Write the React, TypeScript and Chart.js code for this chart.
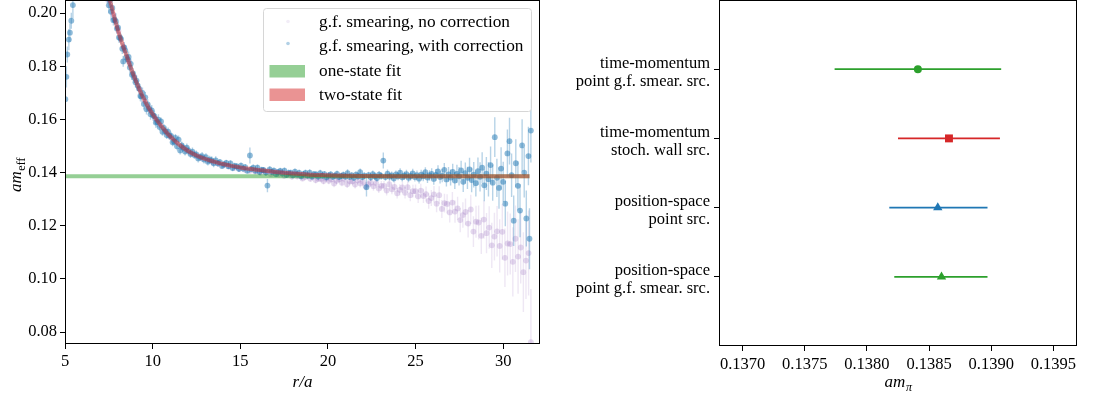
import React, { useEffect, useRef } from 'react';
import { Chart, registerables } from 'chart.js';

Chart.register(...registerables);

const FONT = '"Liberation Serif", "DejaVu Serif", serif';

// ---------- Left panel data ----------
const R_TICKS = [5, 10, 15, 20, 25, 30];
const AM_TICKS = [0.08, 0.1, 0.12, 0.14, 0.16, 0.18, 0.2];

// g.f. smearing, with correction
const R_CORR = [
  5.02, 5.08, 5.13, 5.22, 5.28, 5.36, 5.45, 5.55,
  7.42, 7.50, 7.58, 7.63, 7.70, 7.76, 7.83, 7.90, 7.96, 8.03, 8.08, 8.15, 8.20, 8.27, 8.32, 8.38, 8.44, 8.50,
  8.57, 8.63, 8.70, 8.75, 8.82, 8.88, 8.95, 9.02, 9.08, 9.15, 9.22, 9.30, 9.35, 9.42, 9.50, 9.58, 9.65, 9.72,
  9.80, 9.88, 9.95, 10.03, 10.10, 10.18, 10.26, 10.33, 10.40, 10.48, 10.56, 10.64, 10.72, 10.80, 10.88, 10.96,
  11.05, 11.14, 11.22, 11.30, 11.39, 11.48, 11.57, 11.66, 11.75, 11.85, 11.95,
  12.05, 12.16, 12.27, 12.38, 12.49, 12.60, 12.71, 12.82, 12.93, 13.04, 13.15, 13.26, 13.37, 13.48, 13.60,
  13.72, 13.84, 13.96, 14.08, 14.20, 14.32, 14.44, 14.56, 14.68, 14.80, 14.92, 15.04, 15.16, 15.28, 15.40,
  15.55, 15.62, 15.74, 15.86, 15.98, 16.10, 16.22, 16.34, 16.46, 16.55, 16.68, 16.80, 16.92, 17.04, 17.16,
  17.28, 17.40, 17.52, 17.64, 17.76, 17.88, 18.00, 18.12, 18.24, 18.36, 18.48, 18.60, 18.72, 18.84, 18.96,
  19.08, 19.20, 19.32, 19.44, 19.56, 19.68, 19.80, 19.92,
  20.04, 20.16, 20.28, 20.40, 20.52, 20.64, 20.76, 20.88, 21.00, 21.12, 21.24, 21.36, 21.48, 21.60, 21.72,
  21.84, 21.96, 22.08, 22.20, 22.32, 22.44, 22.56, 22.68, 22.80, 22.92, 23.04, 23.16, 23.28, 23.40, 23.52,
  23.64, 23.76, 23.88, 24.00, 24.12, 24.24, 24.36, 24.48, 24.60, 24.72, 24.84, 24.96, 25.08, 25.20, 25.32,
  25.44, 25.56, 25.68, 25.80, 25.92, 26.04, 26.16, 26.28, 26.40, 26.52, 26.64, 26.76, 26.88, 27.00, 27.12,
  27.24, 27.36, 27.48, 27.60, 27.72, 27.84, 27.96, 28.08, 28.20, 28.32, 28.44, 28.56, 28.68, 28.80, 28.92,
  29.04, 29.16, 29.28, 29.40, 29.52, 29.64, 29.76, 29.88, 30.00, 30.12, 30.24, 30.36, 30.48, 30.60, 30.72,
  30.84, 30.96, 31.08, 31.20, 31.32, 31.44, 31.50, 31.58,
];
const AM_CORR = [
  0.1676, 0.1760, 0.1844, 0.1900, 0.1926, 0.1971, 0.2030, 0.2120,
  0.2067, 0.2029, 0.2048, 0.2005, 0.2019, 0.1973, 0.1975, 0.1969, 0.1942, 0.1945, 0.1908, 0.1907, 0.1902, 0.1866, 0.1818, 0.1871, 0.1859, 0.1834,
  0.1826, 0.1835, 0.1795, 0.1809, 0.1768, 0.1773, 0.1757, 0.1740, 0.1746, 0.1727, 0.1716, 0.1688, 0.1686, 0.1700, 0.1658, 0.1683, 0.1638, 0.1656,
  0.1641, 0.1619, 0.1634, 0.1615, 0.1612, 0.1588, 0.1590, 0.1599, 0.1571, 0.1592, 0.1553, 0.1568, 0.1556, 0.1541, 0.1554, 0.1538,
  0.1538, 0.1514, 0.1517, 0.1530, 0.1499, 0.1524, 0.1483, 0.1502, 0.1493, 0.1479, 0.1494,
  0.1482, 0.1470, 0.1479, 0.1466, 0.1468, 0.1453, 0.1458, 0.1462, 0.1449, 0.1458, 0.1441, 0.1448, 0.1446, 0.1435, 0.1446,
  0.1435, 0.1439, 0.1425, 0.1431, 0.1436, 0.1424, 0.1434, 0.1417, 0.1425, 0.1423, 0.1414, 0.1426, 0.1415, 0.1420, 0.1407,
  0.1464, 0.1413, 0.1418, 0.1407, 0.1418, 0.1402, 0.1410, 0.1409, 0.1400, 0.1351, 0.1412, 0.1402, 0.1407, 0.1394, 0.1401,
  0.1406, 0.1396, 0.1407, 0.1391, 0.1399, 0.1399, 0.1390, 0.1403, 0.1393, 0.1399, 0.1386, 0.1394, 0.1399, 0.1389, 0.1400,
  0.1385, 0.1394, 0.1393, 0.1385, 0.1398, 0.1388, 0.1394, 0.1382,
  0.1389, 0.1393, 0.1384, 0.1388, 0.1395, 0.1383, 0.1387, 0.1391, 0.1385, 0.1398, 0.1384, 0.1389, 0.1380, 0.1392, 0.1386,
  0.1401, 0.1383, 0.1388, 0.1345, 0.1390, 0.1382, 0.1394, 0.1386, 0.1379, 0.1392, 0.1387, 0.1445, 0.1383, 0.1396, 0.1385,
  0.1389, 0.1378, 0.1393, 0.1386, 0.1400, 0.1382, 0.1388, 0.1394, 0.1380, 0.1387, 0.1397, 0.1383, 0.1390, 0.1377, 0.1392,
  0.1386, 0.1401, 0.1381, 0.1389, 0.1395, 0.1376, 0.1391, 0.1404, 0.1383, 0.1388, 0.1410, 0.1374, 0.1393, 0.1381, 0.1402,
  0.1370, 0.1395, 0.1386, 0.1408, 0.1365, 0.1398, 0.1380, 0.1412, 0.1372, 0.1392, 0.1360, 0.1405, 0.1384, 0.1418, 0.1352,
  0.1396, 0.1375, 0.1428, 0.1362, 0.1533, 0.1380, 0.1342, 0.1415, 0.1365, 0.1283, 0.1472, 0.1518, 0.1390, 0.1219, 0.1435,
  0.1350, 0.1257, 0.1502, 0.1400, 0.1227, 0.1462, 0.1151, 0.1558,
];
const ERR_CORR = [
  0.0045, 0.0040, 0.0030, 0.0040, 0.0035, 0.0030, 0.0050, 0.0060,
  0.003, 0.003, 0.002, 0.003, 0.002, 0.002, 0.002, 0.003, 0.002, 0.002, 0.002, 0.002, 0.002, 0.002, 0.002, 0.002, 0.002, 0.002,
  0.002, 0.002, 0.002, 0.002, 0.002, 0.002, 0.002, 0.002, 0.002, 0.002, 0.002, 0.002, 0.002, 0.002, 0.002, 0.002, 0.002, 0.002,
  0.002, 0.002, 0.002, 0.002, 0.002, 0.002, 0.002, 0.002, 0.0015, 0.0015, 0.0015, 0.0015, 0.0015, 0.0015, 0.0015, 0.0015,
  0.0015, 0.0015, 0.0015, 0.0015, 0.0015, 0.0015, 0.0015, 0.0015, 0.0015, 0.0015, 0.0015,
  0.0015, 0.0015, 0.0015, 0.0015, 0.0015, 0.0015, 0.0015, 0.0015, 0.0015, 0.0015, 0.0015, 0.0015, 0.0015, 0.0015, 0.0015,
  0.0012, 0.0012, 0.0012, 0.0012, 0.0012, 0.0012, 0.0012, 0.0012, 0.0012, 0.0012, 0.0012, 0.0012, 0.0012, 0.0012, 0.0012,
  0.0030, 0.0012, 0.0012, 0.0012, 0.0012, 0.0012, 0.0012, 0.0012, 0.0012, 0.0025, 0.0012, 0.0012, 0.0012, 0.0012, 0.0012,
  0.0012, 0.0012, 0.0012, 0.0012, 0.0012, 0.0012, 0.0012, 0.0012, 0.0012, 0.0012, 0.0012, 0.0012, 0.0012, 0.0012, 0.0012,
  0.0012, 0.0012, 0.0012, 0.0012, 0.0012, 0.0012, 0.0012, 0.0012,
  0.0012, 0.0012, 0.0012, 0.0012, 0.0013, 0.0012, 0.0012, 0.0013, 0.0012, 0.0014, 0.0012, 0.0013, 0.0013, 0.0013, 0.0013,
  0.0014, 0.0013, 0.0013, 0.0035, 0.0013, 0.0014, 0.0014, 0.0014, 0.0014, 0.0014, 0.0014, 0.0030, 0.0014, 0.0015, 0.0015,
  0.0015, 0.0015, 0.0015, 0.0015, 0.0016, 0.0016, 0.0016, 0.0016, 0.0017, 0.0017, 0.0017, 0.0017, 0.0018, 0.0018, 0.0018,
  0.0019, 0.0019, 0.0020, 0.0020, 0.0021, 0.0022, 0.0022, 0.0023, 0.0024, 0.0025, 0.0026, 0.0027, 0.0028, 0.0030, 0.0031,
  0.0032, 0.0034, 0.0035, 0.0036, 0.0038, 0.0040, 0.0042, 0.0044, 0.0046, 0.0048, 0.0050, 0.0052, 0.0055, 0.0058, 0.0060,
  0.0062, 0.0065, 0.0070, 0.0068, 0.0075, 0.0072, 0.0078, 0.0080, 0.0076, 0.0085, 0.0090, 0.0088, 0.0082, 0.0095, 0.0090,
  0.0092, 0.0100, 0.0098, 0.0094, 0.0105, 0.0110, 0.0115, 0.0120,
];

// g.f. smearing, no correction
const R_NOCORR = [
  7.45, 7.75, 8.05, 8.35, 8.65, 8.95, 9.25, 9.55, 9.85, 10.15, 10.45, 10.75, 11.05, 11.35, 11.65, 11.95,
  12.25, 12.55, 12.85, 13.15, 13.45, 13.75, 14.05, 14.35, 14.65, 14.95, 15.25, 15.55, 15.85,
  16.00, 16.15, 16.30, 16.45, 16.60, 16.75, 16.90, 17.05, 17.20, 17.35, 17.50, 17.65, 17.80, 17.95, 18.10,
  18.25, 18.40, 18.55, 18.70, 18.85, 19.00, 19.15, 19.30, 19.45, 19.60, 19.75, 19.90, 20.05, 20.20, 20.35,
  20.50, 20.65, 20.80, 20.95, 21.10, 21.25, 21.40, 21.55, 21.70, 21.85, 22.00, 22.15, 22.30, 22.45, 22.60,
  22.75, 22.90, 23.05, 23.20, 23.35, 23.50, 23.65, 23.80, 23.95, 24.10, 24.25, 24.40, 24.55, 24.70, 24.85,
  25.00, 25.15, 25.30, 25.45, 25.60, 25.75, 25.90, 26.05, 26.20, 26.35, 26.50, 26.65, 26.80, 26.95, 27.10,
  27.25, 27.40, 27.55, 27.70, 27.85, 28.00, 28.15, 28.30, 28.45, 28.60, 28.75, 28.90, 29.05, 29.20, 29.35,
  29.50, 29.65, 29.80, 29.95, 30.10, 30.25, 30.40, 30.55, 30.70, 30.85, 31.00, 31.15, 31.30, 31.45, 31.58,
];
const AM_NOCORR = [
  0.2050, 0.1995, 0.1932, 0.1872, 0.1818, 0.1762, 0.1714, 0.1668, 0.1636, 0.1603, 0.1578, 0.1552, 0.1533, 0.1514, 0.1496, 0.1484,
  0.1471, 0.1462, 0.1453, 0.1446, 0.1438, 0.1433, 0.1428, 0.1423, 0.1418, 0.1414, 0.1411, 0.1407, 0.1404,
  0.1408, 0.1400, 0.1409, 0.1401, 0.1404, 0.1394, 0.1399, 0.1402, 0.1393, 0.1401, 0.1388, 0.1393, 0.1393, 0.1385, 0.1394,
  0.1386, 0.1388, 0.1378, 0.1383, 0.1386, 0.1377, 0.1385, 0.1372, 0.1377, 0.1376, 0.1368, 0.1377, 0.1369, 0.1375, 0.1359,
  0.1369, 0.1375, 0.1362, 0.1376, 0.1356, 0.1367, 0.1367, 0.1355, 0.1371, 0.1359, 0.1365, 0.1348, 0.1356, 0.1362, 0.1348,
  0.1361, 0.1340, 0.1350, 0.1350, 0.1332, 0.1356, 0.1337, 0.1346, 0.1322, 0.1335, 0.1344, 0.1324, 0.1345, 0.1315, 0.1330,
  0.1330, 0.1310, 0.1332, 0.1312, 0.1319, 0.1293, 0.1304, 0.1318, 0.1283, 0.1315, 0.1263, 0.1285, 0.1282, 0.1250, 0.1287,
  0.1253, 0.1265, 0.1221, 0.1240, 0.1252, 0.1208, 0.1261, 0.1178, 0.1215, 0.1212, 0.1162, 0.1223, 0.1172, 0.1193, 0.1126,
  0.1159, 0.1179, 0.1124, 0.1177, 0.1079, 0.1133, 0.1131, 0.1064, 0.1151, 0.1084, 0.1118, 0.1025, 0.1069, 0.1097, 0.0762,
];
const ERR_NOCORR = [
  0.003, 0.003, 0.002, 0.002, 0.002, 0.002, 0.002, 0.002, 0.002, 0.002, 0.0015, 0.0015, 0.0015, 0.0015, 0.0015, 0.0015,
  0.0012, 0.0012, 0.0012, 0.0012, 0.0012, 0.0012, 0.0012, 0.0012, 0.0012, 0.0012, 0.0012, 0.0012, 0.0012,
  0.0012, 0.0012, 0.0012, 0.0012, 0.0012, 0.0012, 0.0012, 0.0012, 0.0012, 0.0012, 0.0012, 0.0012, 0.0012, 0.0012, 0.0012,
  0.0012, 0.0012, 0.0012, 0.0012, 0.0012, 0.0013, 0.0013, 0.0013, 0.0013, 0.0013, 0.0013, 0.0013, 0.0013, 0.0013, 0.0014,
  0.0014, 0.0014, 0.0014, 0.0014, 0.0014, 0.0015, 0.0015, 0.0015, 0.0015, 0.0015, 0.0016, 0.0016, 0.0016, 0.0016, 0.0017,
  0.0017, 0.0017, 0.0018, 0.0018, 0.0018, 0.0019, 0.0019, 0.0020, 0.0020, 0.0021, 0.0021, 0.0022, 0.0022, 0.0023, 0.0024,
  0.0025, 0.0025, 0.0026, 0.0027, 0.0028, 0.0029, 0.0030, 0.0031, 0.0032, 0.0033, 0.0034, 0.0035, 0.0036, 0.0038, 0.0040,
  0.0042, 0.0044, 0.0046, 0.0048, 0.0050, 0.0052, 0.0055, 0.0058, 0.0060, 0.0064, 0.0068, 0.0072, 0.0076, 0.0080, 0.0085,
  0.0090, 0.0095, 0.0100, 0.0105, 0.0110, 0.0120, 0.0115, 0.0130, 0.0125, 0.0140, 0.0135, 0.0150, 0.0145, 0.0160, 0.0200,
];

// fits
const R_FIT1 = [5.0, 31.5];
const AM_FIT1 = [0.1386, 0.1386];
const R_FIT2 = [7.2, 7.4, 7.55, 7.75, 8.0, 8.25, 8.5, 8.75, 9.0, 9.25, 9.5, 9.75, 10.0, 10.25, 10.5, 10.75, 11.0, 11.5, 12.0,
  12.5, 13.0, 13.5, 14.0, 14.5, 15.0, 15.5, 16.0, 17.0, 18.0, 19.0, 20.0, 21.0, 22.0, 24.0, 26.0, 28.0, 31.5];
const AM_FIT2 = [0.2110, 0.2078, 0.2050, 0.2000, 0.1940, 0.1888, 0.1842, 0.1795, 0.1752, 0.1712, 0.1677, 0.1646, 0.1620,
  0.1596, 0.1574, 0.1554, 0.1536, 0.1506, 0.1482, 0.1464, 0.1451, 0.1441, 0.1432, 0.1425, 0.1419, 0.1414, 0.1410, 0.1402,
  0.1396, 0.1392, 0.1390, 0.1388, 0.1387, 0.1386, 0.1386, 0.1386, 0.1386];

const LEGEND_LABELS = ['g.f. smearing, no correction', 'g.f. smearing, with correction', 'one-state fit', 'two-state fit'];

// ---------- Right panel data ----------
const METHOD_LABELS = [
  ['time-momentum', 'point g.f. smear. src.'],
  ['time-momentum', 'stoch. wall src.'],
  ['position-space', 'point src.'],
  ['position-space', 'point g.f. smear. src.'],
];
const AM_PI = [0.13841, 0.13866, 0.13857, 0.13860];
const AM_PI_LO = [0.13774, 0.13825, 0.13818, 0.13822];
const AM_PI_HI = [0.13908, 0.13907, 0.13897, 0.13897];
const METHOD_COLORS = ['#2ca02c', '#d62728', '#1f77b4', '#2ca02c'];
const METHOD_MARKERS = ['circle', 'rect', 'triangle', 'triangle'];
const METHOD_RADII = [4, 5.6, 5.4, 5.4];
const AMPI_TICKS = [0.137, 0.1375, 0.138, 0.1385, 0.139, 0.1395];

// ---------- helpers ----------
const fixTicks = (values: number[]) => (scale: any) => {
  scale.ticks = values.map((v) => ({ value: v }));
};
const pts = (xs: number[], ys: number[]) => xs.map((x, i) => ({ x, y: ys[i] }));
const errSegs = (xs: number[], ys: number[], es: number[]) => {
  const out: any[] = [];
  xs.forEach((x, i) => {
    out.push({ x, y: ys[i] - es[i] });
    out.push({ x, y: ys[i] + es[i] });
    out.push({ x, y: null });
  });
  return out;
};

const framePlugin = {
  id: 'frame',
  afterDatasetsDraw(chart: any) {
    const { ctx, chartArea: a } = chart;
    ctx.save();
    ctx.strokeStyle = '#000';
    ctx.lineWidth = 1;
    ctx.strokeRect(Math.round(a.left) + 0.5, Math.round(a.top) + 0.5, Math.round(a.right - a.left) - 1, Math.round(a.bottom - a.top) - 1);
    ctx.restore();
  },
};

function drawSubText(ctx: CanvasRenderingContext2D, main: string, sub: string, cx: number, baseline: number, subItalic: boolean) {
  const mainFont = `italic 17px ${FONT}`;
  const subFont = `${subItalic ? 'italic ' : ''}12px ${FONT}`;
  ctx.font = mainFont;
  const w1 = ctx.measureText(main).width;
  ctx.font = subFont;
  const w2 = ctx.measureText(sub).width;
  const x0 = cx - (w1 + w2) / 2;
  ctx.textAlign = 'left';
  ctx.textBaseline = 'alphabetic';
  ctx.font = mainFont;
  ctx.fillText(main, x0, baseline);
  ctx.font = subFont;
  ctx.fillText(sub, x0 + w1 + 0.5, baseline + 4);
}

const leftDecor = {
  id: 'leftDecor',
  afterDraw(chart: any) {
    const { ctx, chartArea: a } = chart;
    ctx.save();
    ctx.fillStyle = '#000';
    // x title
    ctx.font = `italic 17px ${FONT}`;
    ctx.textAlign = 'center';
    ctx.textBaseline = 'alphabetic';
    ctx.fillText('r/a', (a.left + a.right) / 2, 387);
    // y title
    ctx.save();
    ctx.translate(21, (a.top + a.bottom) / 2 + 3);
    ctx.rotate(-Math.PI / 2);
    drawSubText(ctx, 'am', 'eff', 0, 0, false);
    ctx.restore();

    // legend
    const bx = 263.5, by = 8.5, bw = 268, bh = 103, r = 3;
    ctx.beginPath();
    ctx.moveTo(bx + r, by);
    ctx.lineTo(bx + bw - r, by);
    ctx.quadraticCurveTo(bx + bw, by, bx + bw, by + r);
    ctx.lineTo(bx + bw, by + bh - r);
    ctx.quadraticCurveTo(bx + bw, by + bh, bx + bw - r, by + bh);
    ctx.lineTo(bx + r, by + bh);
    ctx.quadraticCurveTo(bx, by + bh, bx, by + bh - r);
    ctx.lineTo(bx, by + r);
    ctx.quadraticCurveTo(bx, by, bx + r, by);
    ctx.closePath();
    ctx.fillStyle = 'rgba(255,255,255,0.8)';
    ctx.fill();
    ctx.strokeStyle = '#d6d6d6';
    ctx.lineWidth = 1;
    ctx.stroke();

    const rows = [22.5, 46, 71.5, 95];
    ctx.fillStyle = 'rgba(148,103,189,0.12)';
    ctx.beginPath(); ctx.arc(288, 21.5, 1.8, 0, Math.PI * 2); ctx.fill();
    ctx.fillStyle = 'rgba(31,119,180,0.35)';
    ctx.beginPath(); ctx.arc(288, 43.5, 1.8, 0, Math.PI * 2); ctx.fill();
    ctx.fillStyle = 'rgba(44,160,44,0.5)';
    ctx.fillRect(269.5, 65, 35.5, 12.5);
    ctx.fillStyle = 'rgba(214,39,40,0.5)';
    ctx.fillRect(269.5, 88.5, 35.5, 12.5);

    ctx.fillStyle = '#000';
    ctx.font = `17.3px ${FONT}`;
    ctx.textAlign = 'left';
    ctx.textBaseline = 'middle';
    LEGEND_LABELS.forEach((t, i) => ctx.fillText(t, 319, rows[i]));
    ctx.restore();
  },
};

const rightDecor = {
  id: 'rightDecor',
  afterDraw(chart: any) {
    const { ctx, chartArea: a } = chart;
    ctx.save();
    ctx.fillStyle = '#000';
    drawSubText(ctx, 'am', 'π', (a.left + a.right) / 2, 387, true);
    ctx.restore();
  },
};

const tickFont = { family: FONT, size: 16.5 };
const axisGrid = { drawOnChartArea: false, drawTicks: true, tickLength: 5, tickColor: '#000', tickWidth: 1, color: '#000' };

export default function App() {
  const leftRef = useRef<HTMLCanvasElement>(null);
  const rightRef = useRef<HTMLCanvasElement>(null);

  useEffect(() => {
    const left = new Chart(leftRef.current as HTMLCanvasElement, {
      type: 'scatter',
      data: {
        datasets: [
          {
            label: 'two-state fit', data: pts(R_FIT2, AM_FIT2), showLine: true, borderColor: 'rgba(214,39,40,0.5)',
            borderWidth: 4, pointRadius: 0, cubicInterpolationMode: 'monotone', order: 0,
          } as any,
          {
            label: 'one-state fit', data: pts(R_FIT1, AM_FIT1), showLine: true, borderColor: 'rgba(44,160,44,0.5)',
            borderWidth: 4, pointRadius: 0, order: 1,
          },
          {
            label: LEGEND_LABELS[1], data: pts(R_CORR, AM_CORR), pointRadius: 2.9, borderWidth: 0,
            backgroundColor: 'rgba(31,119,180,0.5)', order: 2,
          },
          {
            label: 'err corr', data: errSegs(R_CORR, AM_CORR, ERR_CORR), showLine: true, spanGaps: false,
            borderColor: 'rgba(31,119,180,0.32)', borderWidth: 1.4, pointRadius: 0, order: 3,
          },
          {
            label: LEGEND_LABELS[0], data: pts(R_NOCORR, AM_NOCORR), pointRadius: 2.9, borderWidth: 0,
            backgroundColor: 'rgba(148,103,189,0.25)', order: 4,
          },
          {
            label: 'err nocorr', data: errSegs(R_NOCORR, AM_NOCORR, ERR_NOCORR), showLine: true, spanGaps: false,
            borderColor: 'rgba(148,103,189,0.16)', borderWidth: 1.4, pointRadius: 0, order: 5,
          },
        ],
      },
      options: {
        animation: false,
        responsive: false,
        maintainAspectRatio: false,
        layout: { autoPadding: false, padding: { left: 0, right: 19, top: 0, bottom: 0 } },
        plugins: { legend: { display: false }, tooltip: { enabled: false } },
        scales: {
          x: {
            type: 'linear', min: 5, max: 32.1,
            afterBuildTicks: fixTicks(R_TICKS),
            afterFit: (s: any) => { s.height = 55; s.paddingLeft = 0; s.paddingRight = 0; },
            grid: axisGrid, border: { display: false },
            ticks: { color: '#000', font: tickFont, padding: 3, autoSkip: false, maxRotation: 0, callback: (v: any) => String(v) },
          },
          y: {
            type: 'linear', min: 0.0755, max: 0.2049,
            afterBuildTicks: fixTicks(AM_TICKS),
            afterFit: (s: any) => { s.width = 65; s.paddingTop = 0; s.paddingBottom = 0; },
            grid: axisGrid, border: { display: false },
            ticks: { color: '#000', font: tickFont, padding: 3, autoSkip: false, callback: (v: any) => Number(v).toFixed(2) },
          },
        },
      } as any,
      plugins: [framePlugin, leftDecor],
    });

    const rightSets: any[] = [];
    AM_PI.forEach((v, i) => {
      rightSets.push({
        label: 'bar' + i, data: [{ x: AM_PI_LO[i], y: i }, { x: AM_PI_HI[i], y: i }], showLine: true,
        borderColor: METHOD_COLORS[i], borderWidth: 1.7, pointRadius: 0, order: 2,
      });
      rightSets.push({
        label: 'pt' + i, data: [{ x: v, y: i }], pointStyle: METHOD_MARKERS[i], pointRadius: METHOD_RADII[i],
        backgroundColor: METHOD_COLORS[i], borderColor: METHOD_COLORS[i], borderWidth: 0, order: 1,
      });
    });

    const right = new Chart(rightRef.current as HTMLCanvasElement, {
      type: 'scatter',
      data: { datasets: rightSets },
      options: {
        animation: false,
        responsive: false,
        maintainAspectRatio: false,
        layout: { autoPadding: false, padding: { left: 0, right: 41, top: 0, bottom: 0 } },
        plugins: { legend: { display: false }, tooltip: { enabled: false } },
        scales: {
          x: {
            type: 'linear', min: 0.13681, max: 0.13969,
            afterBuildTicks: fixTicks(AMPI_TICKS),
            afterFit: (s: any) => { s.height = 53; s.paddingLeft = 0; s.paddingRight = 0; },
            grid: axisGrid, border: { display: false },
            ticks: { color: '#000', font: tickFont, padding: 4, autoSkip: false, maxRotation: 0, callback: (v: any) => Number(v).toFixed(4) },
          },
          y: {
            type: 'linear', min: -1, max: 4, reverse: true,
            afterBuildTicks: fixTicks([0, 1, 2, 3]),
            afterFit: (s: any) => { s.width = 160; s.paddingTop = 0; s.paddingBottom = 0; },
            grid: axisGrid, border: { display: false },
            ticks: {
              color: '#000', font: { family: FONT, size: 16.5, lineHeight: 1.09 }, padding: 4, autoSkip: false,
              labelOffset: 3,
              callback: (v: any) => METHOD_LABELS[Math.round(Number(v))],
            },
          },
        },
      } as any,
      plugins: [framePlugin, rightDecor],
    });

    return () => {
      left.destroy();
      right.destroy();
    };
  }, []);

  return (
    <div style={{ position: 'absolute', left: 0, top: 0, width: 1118, height: 399, background: '#fff' }}>
      <canvas ref={leftRef} width={559} height={399} style={{ position: 'absolute', left: 0, top: 0, width: 559, height: 399 }} />
      <canvas ref={rightRef} width={559} height={399} style={{ position: 'absolute', left: 559, top: 0, width: 559, height: 399 }} />
    </div>
  );
}
